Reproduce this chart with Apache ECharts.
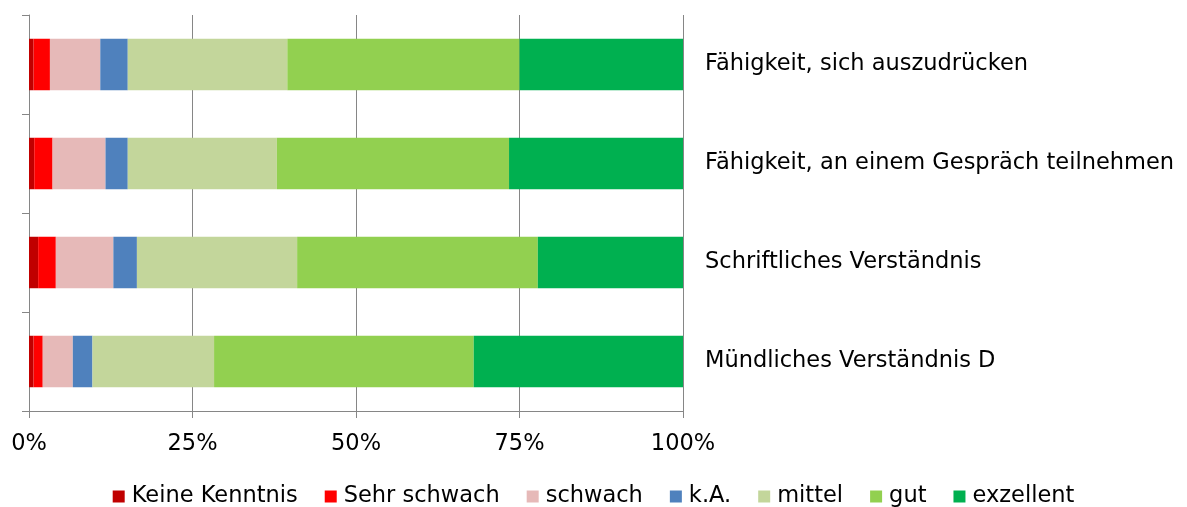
<!DOCTYPE html>
<html><head><meta charset="utf-8">
<script src="https://cdn.jsdelivr.net/npm/echarts@6/dist/echarts.min.js"></script>
<style>html,body{margin:0;padding:0;background:#fff}#c{width:1187px;height:507px}</style>
</head><body><div id="c"></div>
<script>
const categories = ["Mündliches Verständnis D", "Schriftliches Verständnis", "Fähigkeit, an einem Gespräch teilnehmen", "Fähigkeit, sich auszudrücken"];
const keineKenntnis = [0.7, 1.4, 0.8, 0.7];
const sehrSchwach = [1.4, 2.7, 2.8, 2.5];
const schwach = [4.6, 8.8, 8.1, 7.7];
const kA = [3.0, 3.6, 3.4, 4.2];
const mittel = [18.6, 24.5, 22.8, 24.4];
const gut = [39.7, 36.8, 35.5, 35.5];
const exzellent = [32.0, 22.2, 26.6, 25.0];
const xTicks = [0, 25, 50, 75, 100];

const seriesDefs = [
  ["Keine Kenntnis", keineKenntnis, "#C00000"],
  ["Sehr schwach", sehrSchwach, "#FF0000"],
  ["schwach", schwach, "#E6B9B8"],
  ["k.A.", kA, "#4F81BD"],
  ["mittel", mittel, "#C3D69B"],
  ["gut", gut, "#92D050"],
  ["exzellent", exzellent, "#00B050"]
];
const font = "DejaVu Sans, Verdana, sans-serif";
const fs = 22.5;
const chart = echarts.init(document.getElementById('c'));
chart.setOption({
  animation: false,
  textStyle: {fontFamily: font},
  grid: {left: 29, right: 504, top: 15, bottom: 96},
  legend: {
    top: 480, left: 'center', itemWidth: 12, itemHeight: 12, itemGap: 27,
    icon: 'rect',
    textStyle: {fontSize: fs, color: '#000', fontFamily: font, padding: [0, 0, 0, 2]},
    data: seriesDefs.map(d => d[0])
  },
  xAxis: {
    type: 'value', min: xTicks[0], max: xTicks[xTicks.length-1], interval: 25,
    axisLine: {show: true, lineStyle: {color: '#868686', width: 1}},
    axisTick: {show: true, length: 7, lineStyle: {color: '#868686'}},
    splitLine: {show: true, lineStyle: {color: '#868686', width: 1}},
    axisLabel: {formatter: '{value}%', fontSize: fs, color: '#000', margin: 22, fontFamily: font}
  },
  yAxis: [{
    type: 'category', data: categories, position: 'left',
    axisLine: {show: true, lineStyle: {color: '#868686'}},
    axisTick: {show: true, length: 7, lineStyle: {color: '#868686'}},
    axisLabel: {show: false}
  }, {
    type: 'category', data: categories, position: 'right',
    axisLine: {show: false}, axisTick: {show: false},
    axisLabel: {show: true, fontSize: fs, color: '#000', margin: 22, fontFamily: font}
  }],
  series: seriesDefs.map(d => ({
    name: d[0], type: 'bar', stack: 'total', data: d[1], barWidth: '52%',
    itemStyle: {color: d[2]}, yAxisIndex: 0
  }))
});
</script></body></html>
